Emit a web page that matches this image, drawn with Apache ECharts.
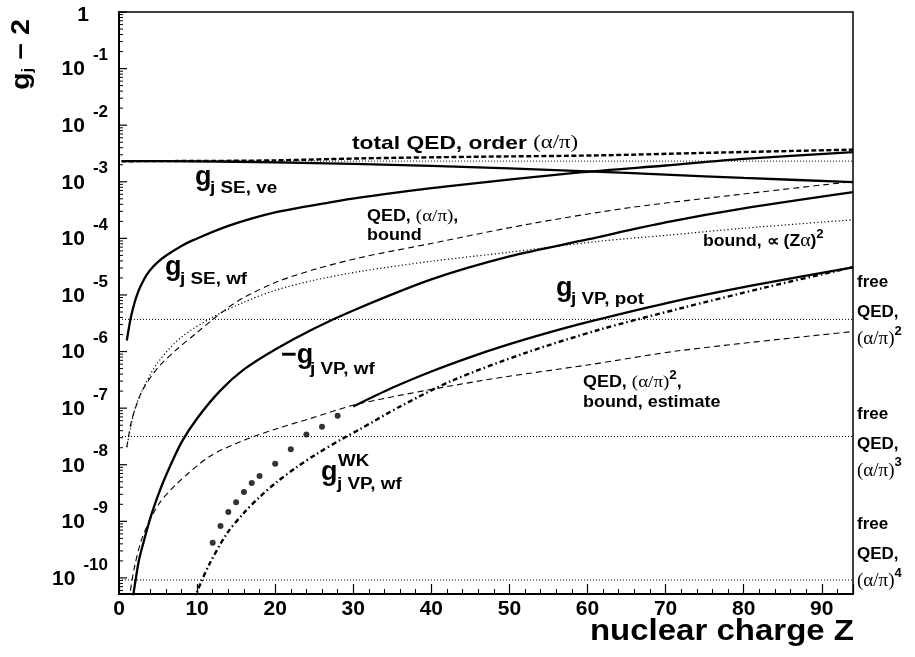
<!DOCTYPE html>
<html><head><meta charset="utf-8">
<script src="https://cdn.jsdelivr.net/npm/echarts@6/dist/echarts.min.js"></script>
<style>html,body{margin:0;padding:0;background:#fff}#c{width:915px;height:657px}</style>
</head><body><div id="c"></div>
<script>
const SANS = '"Liberation Sans", Arial, Helvetica, sans-serif';
const SERIF = '"Liberation Serif", "Times New Roman", serif';

// ---------- data ----------
const zTotal = [0.3, 10, 20, 31, 45, 61.5, 75, 94];
const vTotal = [2.31e-3, 2.33e-3, 2.39e-3, 2.59e-3, 2.76e-3, 2.93e-3, 3.24e-3, 3.70e-3];

const zSEve = [0.5, 10, 20, 30, 40, 50, 60, 70, 80, 94];
const vSEve = [2.314e-3, 2.296e-3, 2.205e-3, 2.074e-3, 1.912e-3, 1.727e-3, 1.529e-3, 1.337e-3, 1.169e-3, 9.90e-4];

const zSEwf = [1, 1.5, 2, 2.5, 3, 3.5, 4, 5, 6, 8, 9.5, 14, 20, 27, 31, 42, 59, 70, 80, 94];
const vSEwf = [1.57e-6, 3.92e-6, 7.37e-6, 1.18e-5, 1.66e-5, 2.21e-5, 2.77e-5, 3.83e-5, 4.93e-5, 7.34e-5, 9.29e-5, 1.66e-4, 2.87e-4, 4.31e-4, 5.28e-4, 8.26e-4, 1.46e-3, 1.94e-3, 2.53e-3, 3.33e-3];

const zVPwf = [1.6, 2, 2.5, 3, 4, 5, 6, 8, 10, 13, 16, 20, 25, 30, 40, 50, 60, 70, 80, 94];
const vVPwf = [3.27e-11, 7.08e-11, 1.89e-10, 3.61e-10, 1.13e-9, 2.87e-9, 6.40e-9, 2.48e-8, 6.58e-8, 2.06e-7, 4.83e-7, 1.09e-6, 2.56e-6, 5.32e-6, 1.88e-5, 4.79e-5, 9.57e-5, 1.91e-4, 3.38e-4, 6.55e-4];

const zVPpot = [30, 35, 40, 45, 50, 55, 60, 70, 80, 94];
const vVPpot = [1.07e-7, 2.29e-7, 4.45e-7, 8.00e-7, 1.35e-6, 2.16e-6, 3.31e-6, 7.11e-6, 1.37e-5, 3.06e-5];

const zWK = [9.6, 10.5, 11.6, 13.8, 15.9, 18, 20.2, 22.7, 25.3, 28.7, 30.8, 36, 42.7, 52, 61.5, 72.1, 82.8, 94];
const vWK = [4.08e-11, 8.32e-11, 1.78e-10, 6.04e-10, 1.36e-9, 2.68e-9, 4.93e-9, 8.95e-9, 1.55e-8, 2.92e-8, 4.21e-8, 1.07e-7, 3.08e-7, 9.40e-7, 2.43e-6, 5.89e-6, 1.36e-5, 3.10e-5];

const zDots = [12, 13, 14, 15, 16, 17, 18, 20, 22, 24, 26, 28];
const vDots = [4.20e-10, 8.28e-10, 1.46e-9, 2.17e-9, 3.30e-9, 4.75e-9, 6.31e-9, 1.04e-8, 1.87e-8, 3.44e-8, 4.69e-8, 7.33e-8];

const zQEDb = [1, 1.5, 2, 3, 5, 7.4, 10, 12, 14, 16, 20, 25, 31, 40, 52.6, 65.3, 80, 94];
const vQEDb = [2.05e-8, 5.15e-8, 9.10e-8, 2.06e-7, 5.24e-7, 1.09e-6, 2.17e-6, 3.69e-6, 6.01e-6, 9.03e-6, 1.66e-5, 2.82e-5, 4.60e-5, 8.13e-5, 1.80e-4, 3.47e-4, 6.09e-4, 1.01e-3];

const zBound = [1, 2, 3, 5, 8, 12, 16, 20, 25, 31, 40, 50, 61.5, 70, 80, 94];
const vBound = [2.05e-8, 9.24e-8, 2.09e-7, 6.50e-7, 1.80e-6, 4.05e-6, 7.45e-6, 1.21e-5, 1.82e-5, 2.62e-5, 3.94e-5, 5.69e-5, 8.89e-5, 1.13e-4, 1.51e-4, 2.13e-4];

const zQED2 = [1.3, 1.4, 2, 3, 5, 7.4, 11.6, 15.9, 20.2, 24.4, 30.8, 46.5, 60, 72.1, 94];
const vQED2 = [4.02e-11, 5.32e-11, 1.60e-10, 5.21e-10, 1.93e-9, 4.60e-9, 1.40e-8, 2.67e-8, 4.33e-8, 6.50e-8, 1.20e-7, 3.08e-7, 5.79e-7, 1.05e-6, 2.26e-6];

const freeLevels = [2.32e-3, 3.7e-6, 3.15e-8, 9.2e-11];
const zRange = [0, 94];

const yMajor = [1e-10, 1e-9, 1e-8, 1e-7, 1e-6, 1e-5, 1e-4, 1e-3, 1e-2, 1e-1, 1];
const minorMult = [2, 3, 4, 5, 6, 7, 8, 9];
const yMin = 5.2e-11, yMax = 1;

// ---------- build ----------
const pairs = (xs, ys) => xs.map((x, i) => [x, ys[i]]);
const yMinor = [];
yMajor.slice(0, -1).concat([1e-11]).forEach(d => minorMult.forEach(m => { const v = m * d; if (v > yMin && v < yMax) yMinor.push(v); }));

function curve(zs, vs, ls, smooth) {
  return { type: 'line', data: pairs(zs, vs), showSymbol: false, smooth: smooth === undefined ? 0.3 : smooth,
    lineStyle: Object.assign({ color: '#000' }, ls), silent: true, animation: false, clip: true, z: 3 };
}
const SOLID = { width: 2.3, type: 'solid' };
const DASH = { width: 1.1, type: [6, 4] };
const DOT = { width: 1.2, type: [1.2, 2.4] };

const series = [
  curve(zTotal, vTotal, { width: 2.4, type: [5, 2.5] }),
  curve(zSEve, vSEve, SOLID),
  curve(zSEwf, vSEwf, SOLID),
  curve(zVPwf, vVPwf, SOLID),
  curve(zVPpot, vVPpot, SOLID),
  curve(zWK, vWK, { width: 2.4, type: [5, 3, 1.5, 3] }),
  curve(zQEDb, vQEDb, DASH),
  curve(zBound, vBound, DOT),
  curve(zQED2, vQED2, DASH),
  { type: 'scatter', data: pairs(zDots, vDots), symbol: 'circle', symbolSize: 6, itemStyle: { color: '#000' }, silent: true, animation: false, z: 4 }
];
freeLevels.forEach(v => series.push(curve(zRange, [v, v], { width: 1, type: [1, 2] }, false)));

// y ticks and labels drawn through the axis scale
series.push({
  type: 'custom', clip: false, silent: true, animation: false, z: 10,
  data: yMajor.map(v => [0, v]),
  renderItem: (params, api) => {
    const v = api.value(1);
    const p = api.coord([0, v]);
    const e = Math.round(Math.log10(v));
    const txt = e === 0 ? '{o|1}' : '{b|10}{e|' + e + '}';
    return { type: 'group', children: [
      { type: 'line', shape: { x1: p[0], y1: p[1], x2: p[0] + 8, y2: p[1] }, style: { stroke: '#000', lineWidth: 1.2 } },
      { type: 'text', x: p[0] - 11, y: p[1], style: { text: txt, align: 'right', verticalAlign: 'middle', fill: '#000',
        rich: {
          o: { fontSize: 21, fontWeight: 'bold', fontFamily: SANS, padding: [6, 19, 0, 0] },
          b: { fontSize: 21, fontWeight: 'bold', fontFamily: SANS, padding: [14, 8, 12, 0] },
          e: { fontSize: 17, fontWeight: 'bold', fontFamily: SANS, padding: [2, 0, 28, 0] }
        } } }
    ] };
  }
});
series.push({
  type: 'custom', clip: false, silent: true, animation: false, z: 10,
  data: yMinor.map(v => [0, v]),
  renderItem: (params, api) => {
    const p = api.coord([0, api.value(1)]);
    return { type: 'line', shape: { x1: p[0], y1: p[1], x2: p[0] + 4, y2: p[1] }, style: { stroke: '#000', lineWidth: 1 } };
  }
});

// ---------- annotations ----------
function T(x, base, text, size, o) {
  o = o || {};
  return { type: 'text', x: x, y: base - 0.3465 * size, scaleX: o.sx || 1, rotation: o.rot || 0, silent: true, z: 100,
    style: { text: text, fontSize: size, fontWeight: o.w || 'bold', fontFamily: o.f || SANS, fill: '#000',
      align: o.align || 'left', verticalAlign: 'middle', rich: o.rich } };
}
const B = (s) => ({ fontSize: s, fontWeight: 'bold', fontFamily: SANS });
const S = (s) => ({ fontSize: s, fontWeight: 'normal', fontFamily: SERIF });
const SUP = (s, up) => ({ fontSize: s, fontWeight: 'bold', fontFamily: SANS, padding: [0, 0, up, 0] });

const gfx = [
  T(352, 150, '{a|total QED, order }{s|(α/π)}', 19, { sx: 1.2, rich: { a: B(19), s: S(19) } }),
  T(195, 186.7, 'g', 27), T(210, 194.3, 'j SE, ve', 16, { sx: 1.18 }),
  T(165, 277.3, 'g', 27), T(180, 285, 'j SE, wf', 16, { sx: 1.18 }),
  T(367, 221.7, '{a|QED, }{s|(α/π)}{a|,}', 16, { sx: 1.12, rich: { a: B(16), s: S(17) } }),
  T(367, 240.7, 'bound', 16, { sx: 1.12 }),
  T(703, 247.3, '{a|bound, ∝ (Z}{s|α}{a|)}{p|2}', 16, { sx: 1.1, rich: { a: B(16), s: S(18), p: SUP(12, 14) } }),
  T(556, 298, 'g', 27), T(571, 305, 'j VP, pot', 16, { sx: 1.18 }),
  T(281, 365, '−g', 27), T(310, 375, 'j VP, wf', 16, { sx: 1.18 }),
  T(583, 388, '{a|QED, }{s|(α/π)}{p|2}{a|,}', 16, { sx: 1.12, rich: { a: B(16), s: S(17), p: SUP(12, 14) } }),
  T(583, 408, 'bound, estimate', 16, { sx: 1.12 }),
  T(321, 482, 'g', 27), T(338, 467, 'WK', 17, { sx: 1.1 }), T(337, 490, 'j VP, wf', 16, { sx: 1.18 }),
  T(854, 642, 'nuclear charge Z', 30, { align: 'right', sx: 1.1 }),
  { type: 'text', x: 22, y: 90, rotation: Math.PI / 2, scaleX: 1.15, silent: true, z: 100,
    style: { text: '{g|g}{j|j}{r| − 2}', align: 'left', verticalAlign: 'middle', fill: '#000',
      rich: { g: B(25), j: { fontSize: 15, fontWeight: 'bold', fontFamily: SANS, padding: [12, 0, 0, 0] }, r: B(25) } } }
];
const qBase = [318.3, 450, 560.7];
['2', '3', '4'].forEach((n, i) => {
  gfx.push(T(857, qBase[i] - 30, 'free', 17));
  gfx.push(T(857, qBase[i], 'QED,', 17));
  gfx.push(T(857, qBase[i] + 27, '{s|(α/π)}{p|' + n + '}', 18, { rich: { s: S(19), p: SUP(13, 16) } }));
});

const chart = echarts.init(document.getElementById('c'), null, { renderer: 'canvas' });
chart.setOption({
  animation: false,
  backgroundColor: '#fff',
  grid: { left: 119, right: 62, top: 12, bottom: 63, show: true, borderColor: '#000', borderWidth: 1.5, backgroundColor: 'transparent' },
  xAxis: {
    type: 'value', min: 0, max: 94, interval: 10,
    axisLine: { show: true, lineStyle: { color: '#000', width: 2 } },
    axisTick: { show: true, inside: true, length: 10, lineStyle: { color: '#000', width: 1.2 } },
    minorTick: { show: true, splitNumber: 5, length: 5, lineStyle: { color: '#000', width: 1 } },
    splitLine: { show: false },
    axisLabel: { margin: 5, color: '#000', fontSize: 21, fontWeight: 'bold', fontFamily: SANS,
      formatter: v => (v % 10 === 0 ? String(v) : '') }
  },
  yAxis: {
    type: 'log', min: yMin, max: yMax, logBase: 10,
    axisLine: { show: true, lineStyle: { color: '#000', width: 2 } },
    axisTick: { show: false }, axisLabel: { show: false }, splitLine: { show: false }, minorTick: { show: false }
  },
  series: series,
  graphic: gfx
});
</script></body></html>
